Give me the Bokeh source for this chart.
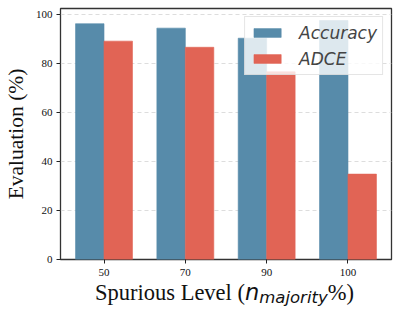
from bokeh.plotting import figure
from bokeh.models import (ColumnDataSource, Range1d, FixedTicker, Legend, LegendItem, Div)
from bokeh.layouts import column
from bokeh.embed import file_html
from bokeh.resources import INLINE

levels = ["50", "70", "90", "100"]
accuracy = [96.1, 94.3, 90.2, 97.4]
adce = [89.0, 86.5, 76.5, 34.8]
yticks = [0, 20, 40, 60, 80, 100]

BLUE = "#578BAA"
RED = "#E16455"
bw = 0.35
pos = list(range(len(levels)))

src = ColumnDataSource(dict(
    x=pos,
    xa=[i - bw / 2 for i in pos],
    xb=[i + bw / 2 for i in pos],
    acc=accuracy,
    adce=adce,
))

p = figure(width=399, height=281, output_backend="svg", toolbar_location=None,
           x_range=Range1d(-0.535, 3.535), y_range=Range1d(0, 102.3),
           min_border_left=58, min_border_right=8, min_border_top=8,
           min_border_bottom=22)
p.background_fill_color = "white"
p.border_fill_color = "white"
p.outline_line_color = "#333333"
p.outline_line_width = 1.3

ra = p.vbar(x="xa", top="acc", width=bw, source=src, fill_color=BLUE,
            line_color=BLUE, line_alpha=0.6)
rb = p.vbar(x="xb", top="adce", width=bw, source=src, fill_color=RED,
            line_color=RED, line_alpha=0.6)

# axes
p.xaxis.ticker = FixedTicker(ticks=pos)
p.xaxis.major_label_overrides = {i: lab for i, lab in zip(pos, levels)}
p.yaxis.ticker = FixedTicker(ticks=yticks)
for ax in (p.xaxis, p.yaxis):
    ax.axis_line_color = None
    ax.major_tick_line_color = "#222222"
    ax.major_tick_line_width = 1
    ax.major_tick_out = 4
    ax.major_tick_in = 0
    ax.minor_tick_line_color = None
    ax.major_label_text_font = "Liberation Serif"
    ax.major_label_text_font_size = "11px"
    ax.major_label_text_color = "#111111"
    ax.major_label_standoff = 4
p.xaxis.major_label_standoff = 5

p.yaxis.axis_label = "Evaluation (%)"
p.yaxis.axis_label_text_font = "Liberation Serif"
p.yaxis.axis_label_text_font_style = "normal"
p.yaxis.axis_label_text_font_size = "21.5px"
p.yaxis.axis_label_text_color = "#111111"
p.yaxis.axis_label_standoff = 5

p.xgrid.grid_line_color = None
p.ygrid.ticker = FixedTicker(ticks=yticks)
p.ygrid.grid_line_color = "#dddddd"
p.ygrid.grid_line_dash = "4 3"
p.ygrid.grid_line_width = 1

# legend
legend = Legend(items=[LegendItem(label="Accuracy", renderers=[ra]),
                       LegendItem(label="ADCE", renderers=[rb])],
                location="top_right")
legend.label_text_font = "DejaVu Sans"
legend.label_text_font_style = "italic"
legend.label_text_font_size = "17px"
legend.glyph_width = 34
legend.glyph_height = 11
legend.label_height = 21
legend.label_standoff = 15
legend.spacing = 5
legend.padding = 5
legend.margin = 8
legend.background_fill_alpha = 0.8
legend.border_line_color = "#cccccc"
legend.border_line_width = 1
p.add_layout(legend)

serif = "font-family:'Liberation Serif';font-size:22.5px;"
sans_i = "font-family:'DejaVu Sans';font-style:italic;"
xlabel_html = (
    f'<div style="white-space:nowrap;line-height:22px;color:#111111;padding-left:95px;">'
    f'<span style="{serif}">Spurious Level (</span>'
    f'<span style="{sans_i}font-size:22.5px;">n</span>'
    f'<span style="{sans_i}font-size:16.5px;position:relative;top:3px;">majority</span>'
    f'<span style="{serif}">%)</span>'
    f'</div>'
)
div = Div(text=xlabel_html, width=399, height=33, margin=(0, 0, 0, 0))

layout = column(p, div, spacing=0)
open("out.html", "w").write(file_html(layout, INLINE))
